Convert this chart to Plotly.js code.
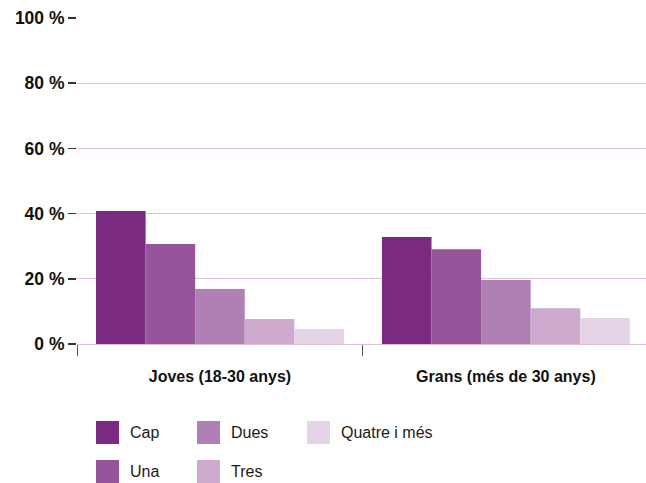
<!DOCTYPE html>
<html>
<head>
<meta charset="utf-8">
<script src="https://cdn.plot.ly/plotly-3.0.1.min.js"></script>
<style>html,body{margin:0;padding:0;background:#fff;}#chart{width:646px;height:483px;}</style>
</head>
<body>
<div id="chart"></div>
<script>
// ---- data ----
const categories = ["Joves (18-30 anys)", "Grans (més de 30 anys)"];
const seriesNames = ["Cap", "Una", "Dues", "Tres", "Quatre i més"];
const cap    = [40.8, 32.8];
const una    = [30.7, 29.1];
const dues   = [16.9, 19.6];
const tres   = [7.7, 11.0];
const quatre = [4.6, 8.0];
const yTicks = [0, 20, 40, 60, 80, 100];

// ---- styles ----
const colors = ["#7b2a82", "#96549b", "#b07fb4", "#ceaacf", "#e5d3e6"];
const values = [cap, una, dues, tres, quatre];
const FONT = "Liberation Sans, Arial, Helvetica, sans-serif";

const traces = seriesNames.map((n, i) => ({
  type: "bar",
  name: n,
  x: categories,
  y: values[i],
  marker: {color: colors[i], line: {width: 0}},
  showlegend: false,
  hoverinfo: "skip"
}));

// legend laid out in columns (Cap/Una, Dues/Tres, Quatre i més)
const L = 77, PW = 569, B = 344, PH = 326;
const px2x = p => (p - L) / PW;
const py2y = p => (B - p) / PH;
const colX = [96, 197, 307];
const rowY = [432.5, 471.5];
const shapes = [], annotations = [];
seriesNames.forEach((n, i) => {
  const c = Math.floor(i / 2), r = i % 2;
  const x0 = colX[c], yc = rowY[r];
  shapes.push({type: "rect", xref: "paper", yref: "paper",
    x0: px2x(x0), x1: px2x(x0 + 23), y0: py2y(yc + 11.5), y1: py2y(yc - 11.5),
    fillcolor: colors[i], line: {width: 0}});
  annotations.push({xref: "paper", yref: "paper", x: px2x(x0 + 32), y: py2y(yc),
    xanchor: "left", yanchor: "middle", showarrow: false, text: n,
    font: {family: FONT, size: 16, color: "#1a1a1a"}});
});

const layout = {
  width: 646, height: 483,
  margin: {l: L, r: 0, t: 18, b: 483 - B},
  paper_bgcolor: "#fff", plot_bgcolor: "#fff",
  barmode: "group", bargap: 0.133, bargroupgap: 0,
  xaxis: {
    type: "category", range: [-0.5, 1.49], fixedrange: true,
    tickson: "boundaries", ticks: "outside", ticklen: 11, tickwidth: 1, tickcolor: "#555",
    showgrid: false, showline: false, zeroline: false,
    ticklabelstandoff: 21,
    tickfont: {family: FONT, size: 16, color: "#111", weight: "bold"}
  },
  yaxis: {
    range: [0, 100], tickvals: yTicks, ticktext: yTicks.map(v => v + " %"),
    ticks: "outside", ticklen: 8, tickwidth: 1.5, tickcolor: "#333",
    showgrid: true, gridcolor: "#dcc2dc", gridwidth: 1,
    zeroline: true, zerolinecolor: "#dcc2dc", zerolinewidth: 1,
    showline: false, fixedrange: true,
    tickfont: {family: FONT, size: 17.5, color: "#111", weight: "bold"}
  },
  shapes: shapes,
  annotations: annotations,
  showlegend: false
};

Plotly.newPlot("chart", traces, layout, {displayModeBar: false, staticPlot: true});
</script>
</body>
</html>
